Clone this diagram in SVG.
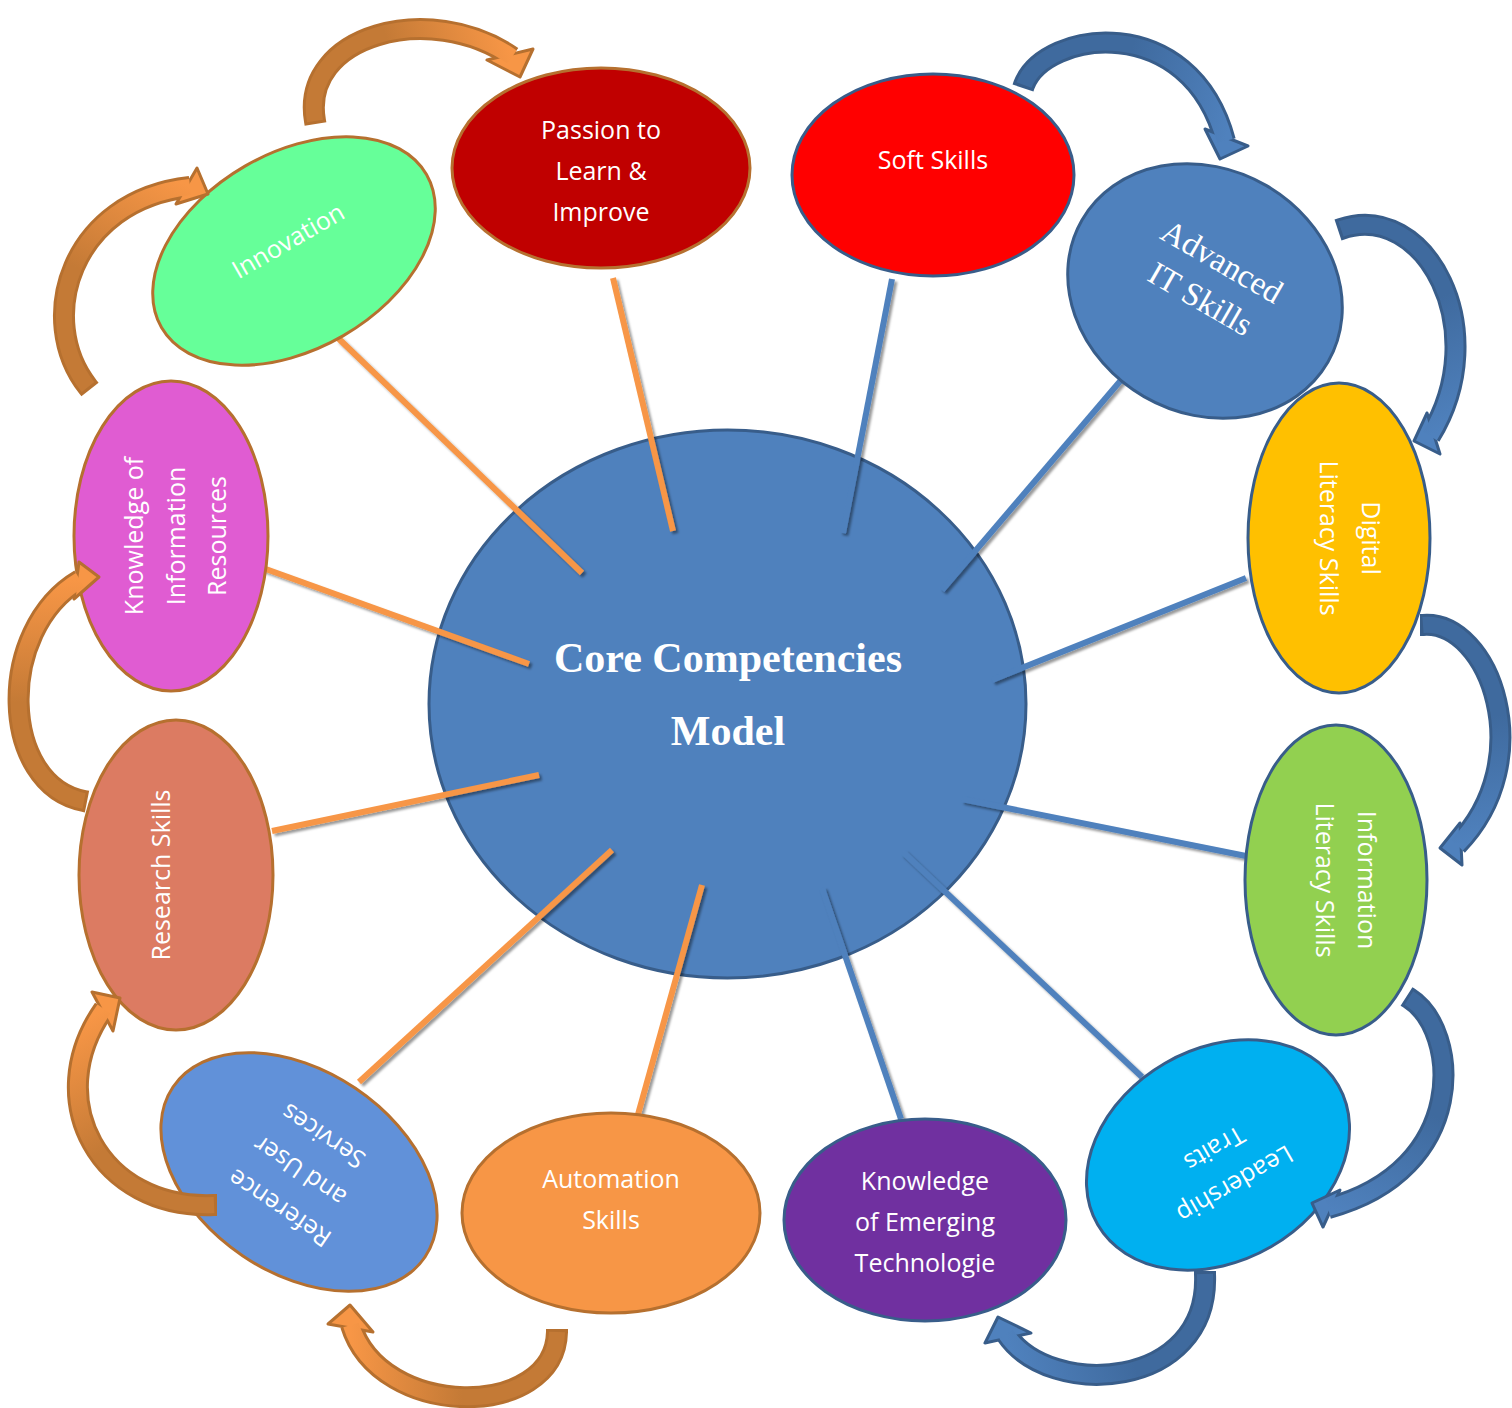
<svg xmlns="http://www.w3.org/2000/svg" width="1512" height="1408" viewBox="0 0 1512 1408">
  <defs>
    <style>
      .lbl{font-family:"Open Sans","Noto Sans",sans-serif;font-size:25px;fill:#fff;text-anchor:middle}
      .ser{font-family:"Liberation Serif","Times New Roman",serif;font-size:33px;fill:#fff;text-anchor:middle}
      .title{font-family:"Liberation Serif","Times New Roman",serif;font-size:42px;font-weight:bold;fill:#fff;text-anchor:middle}
      .ob{stroke:#b6702f;stroke-width:3}
      .bb{stroke:#385d8a;stroke-width:3}
      .co{stroke:#f79646;stroke-width:6}
      .cb{stroke:#4f81bd;stroke-width:6}
      .ao{fill:none;stroke:#b6702f;stroke-width:22}
      .ab{fill:none;stroke:#385d8a;stroke-width:22}
      .af{fill:none;stroke-width:16}
      .ho{fill:#f79646;stroke:#b6702f;stroke-width:3;stroke-linejoin:round}
      .hb{fill:#4f81bd;stroke:#385d8a;stroke-width:3;stroke-linejoin:round}
    </style>
    <!-- soft drop shadow under the spokes -->
    <filter id="spokeShadow" x="-10%" y="-10%" width="120%" height="120%">
      <feDropShadow dx="2.5" dy="2.5" stdDeviation="1.2" flood-color="#000" flood-opacity="0.4"/>
    </filter>
    <!-- shaft shading, darker at the tail -->
    <linearGradient id="gA" gradientUnits="userSpaceOnUse" x1="315" y1="121" x2="512" y2="57"><stop offset="0.45" stop-color="#c47a36"/><stop offset="1" stop-color="#f79646"/></linearGradient>
    <linearGradient id="gB" gradientUnits="userSpaceOnUse" x1="88" y1="387" x2="190" y2="187"><stop offset="0.45" stop-color="#c47a36"/><stop offset="1" stop-color="#f79646"/></linearGradient>
    <linearGradient id="gC" gradientUnits="userSpaceOnUse" x1="84" y1="801" x2="80" y2="580"><stop offset="0.45" stop-color="#c47a36"/><stop offset="1" stop-color="#f79646"/></linearGradient>
    <linearGradient id="gD" gradientUnits="userSpaceOnUse" x1="214" y1="1205" x2="104" y2="1009"><stop offset="0.45" stop-color="#c47a36"/><stop offset="1" stop-color="#f79646"/></linearGradient>
    <linearGradient id="gE" gradientUnits="userSpaceOnUse" x1="557" y1="1332" x2="351" y2="1325"><stop offset="0.45" stop-color="#c47a36"/><stop offset="1" stop-color="#f79646"/></linearGradient>
    <linearGradient id="gF" gradientUnits="userSpaceOnUse" x1="1024" y1="85" x2="1225" y2="141"><stop offset="0.45" stop-color="#3f6a9e"/><stop offset="1" stop-color="#4f81bd"/></linearGradient>
    <linearGradient id="gG" gradientUnits="userSpaceOnUse" x1="1341" y1="229" x2="1430" y2="436"><stop offset="0.45" stop-color="#3f6a9e"/><stop offset="1" stop-color="#4f81bd"/></linearGradient>
    <linearGradient id="gH" gradientUnits="userSpaceOnUse" x1="1423" y1="625" x2="1457" y2="845"><stop offset="0.45" stop-color="#3f6a9e"/><stop offset="1" stop-color="#4f81bd"/></linearGradient>
    <linearGradient id="gI" gradientUnits="userSpaceOnUse" x1="1409" y1="998" x2="1328" y2="1208"><stop offset="0.45" stop-color="#3f6a9e"/><stop offset="1" stop-color="#4f81bd"/></linearGradient>
    <linearGradient id="gJ" gradientUnits="userSpaceOnUse" x1="1205" y1="1274" x2="1006" y2="1334"><stop offset="0.45" stop-color="#3f6a9e"/><stop offset="1" stop-color="#4f81bd"/></linearGradient>
  </defs>

  <rect width="1512" height="1408" fill="#fff"/>

  <!-- hub -->
  <g id="core">
    <ellipse cx="727.5" cy="704" rx="298.5" ry="274" fill="#4f81bd" class="bb"/>
    <text class="title"><tspan x="728" y="672">Core Competencies</tspan><tspan x="728" y="745">Model</tspan></text>
  </g>

  <!-- spokes from the hub to each competency -->
  <g id="connectors" filter="url(#spokeShadow)">
    <line class="co" x1="338" y1="338" x2="582" y2="573"/>
    <line class="co" x1="613" y1="278" x2="673" y2="531"/>
    <line class="co" x1="263" y1="568" x2="529" y2="664"/>
    <line class="co" x1="272" y1="831" x2="539" y2="775"/>
    <line class="co" x1="359" y1="1082" x2="612" y2="850"/>
    <line class="co" x1="637" y1="1118" x2="702" y2="885"/>
    <line class="cb" x1="892" y1="279" x2="843" y2="533"/>
    <line class="cb" x1="1145" y1="352" x2="942" y2="590"/>
    <line class="cb" x1="1246" y1="578" x2="992" y2="680"/>
    <line class="cb" x1="1246" y1="856" x2="962" y2="799"/>
    <line class="cb" x1="1142" y1="1077" x2="903" y2="852"/>
    <line class="cb" x1="901" y1="1119" x2="822" y2="888"/>
  </g>

  <!-- competencies -->
  <g id="passion">
    <ellipse cx="601" cy="168" rx="149" ry="100" fill="#c00000" class="ob"/>
    <text class="lbl"><tspan x="601" y="139">Passion to</tspan><tspan x="601" y="180">Learn &amp;</tspan><tspan x="601" y="221">Improve</tspan></text>
  </g>
  <g id="soft-skills">
    <ellipse cx="933" cy="175" rx="141" ry="101" fill="#ff0000" class="bb"/>
    <text class="lbl" x="933" y="169">Soft Skills</text>
  </g>
  <g id="advanced-it" transform="translate(1205,291) rotate(30)">
    <ellipse rx="142" ry="122" fill="#4f81bd" class="bb"/>
    <text class="ser"><tspan x="0" y="-23">Advanced</tspan><tspan x="0" y="20">IT Skills</tspan></text>
  </g>
  <g id="digital-literacy" transform="translate(1339,538)">
    <ellipse rx="91" ry="155" fill="#ffc000" class="bb"/>
    <text class="lbl" transform="rotate(90)"><tspan x="0" y="-23">Digital</tspan><tspan x="0" y="19">Literacy Skills</tspan></text>
  </g>
  <g id="information-literacy" transform="translate(1336,880)">
    <ellipse rx="91" ry="155" fill="#92d050" class="bb"/>
    <text class="lbl" transform="rotate(90)"><tspan x="0" y="-22">Information</tspan><tspan x="0" y="20">Literacy Skills</tspan></text>
  </g>
  <g id="leadership" transform="translate(1218,1155) rotate(-30)">
    <ellipse rx="139" ry="106" fill="#00b0f0" class="bb"/>
    <text class="lbl" transform="rotate(180)"><tspan x="0" y="-25">Leadership</tspan><tspan x="0" y="16">Traits</tspan></text>
  </g>
  <g id="emerging-tech">
    <ellipse cx="925" cy="1220" rx="141" ry="101" fill="#7030a0" class="bb"/>
    <text class="lbl"><tspan x="925" y="1190">Knowledge</tspan><tspan x="925" y="1231">of Emerging</tspan><tspan x="925" y="1272">Technologie</tspan></text>
  </g>
  <g id="automation">
    <ellipse cx="611" cy="1213" rx="149" ry="100" fill="#f79646" class="ob"/>
    <text class="lbl"><tspan x="611" y="1188">Automation</tspan><tspan x="611" y="1229">Skills</tspan></text>
  </g>
  <g id="reference-services" transform="translate(299,1172) rotate(34)">
    <ellipse rx="152" ry="101" fill="#6191d9" class="ob"/>
    <text class="lbl" transform="rotate(180)"><tspan x="-4" y="-32">Reference</tspan><tspan x="0" y="10">and User</tspan><tspan x="0" y="52">Services</tspan></text>
  </g>
  <g id="research" transform="translate(176,875)">
    <ellipse rx="97" ry="155" fill="#dc7b62" class="ob"/>
    <text class="lbl" transform="rotate(-90)" x="0" y="-6">Research Skills</text>
  </g>
  <g id="information-resources" transform="translate(171,536)">
    <ellipse rx="97" ry="155" fill="#e05cd2" class="ob"/>
    <text class="lbl" transform="rotate(-90)"><tspan x="0" y="-28">Knowledge of</tspan><tspan x="0" y="14">Information</tspan><tspan x="0" y="55">Resources</tspan></text>
  </g>
  <g id="innovation" transform="translate(294,251) rotate(-30)">
    <ellipse rx="153" ry="98" fill="#66ff99" class="ob"/>
    <text class="lbl" x="0" y="-3">Innovation</text>
  </g>

  <!-- curved cycle arrows -->
  <g id="cycle-arrows">
    <g id="arrow-a">
      <path class="ao" d="M315.5,124 L315,121 C300,35 430,0 512,57"/>
      <polygon class="ho" points="487,60 533,49 520,77"/>
      <path class="af" stroke="url(#gA)" d="M315,121 C300,35 430,0 512,57"/>
    </g>
    <g id="arrow-b">
      <path class="ao" d="M90,389.5 L88,387 C35,320 70,200 190,187"/>
      <polygon class="ho" points="197,168 208,194 176,204"/>
      <path class="af" stroke="url(#gB)" d="M88,387 C35,320 70,200 190,187"/>
    </g>
    <g id="arrow-c">
      <path class="ao" d="M87,801.6 L84,801 C0,785 -5,630 80,580"/>
      <polygon class="ho" points="79,562 99,577 74,599"/>
      <path class="af" stroke="url(#gC)" d="M84,801 C0,785 -5,630 80,580"/>
    </g>
    <g id="arrow-d">
      <path class="ao" d="M217,1205 L214,1205 C100,1210 40,1100 104,1009"/>
      <polygon class="ho" points="92,992 120,998 113,1031"/>
      <path class="af" stroke="url(#gD)" d="M214,1205 C100,1210 40,1100 104,1009"/>
    </g>
    <g id="arrow-e">
      <path class="ao" d="M557,1329 L557,1332 C555,1420 380,1420 351,1325"/>
      <polygon class="ho" points="328,1324 350,1305 373,1332"/>
      <path class="af" stroke="url(#gE)" d="M557,1332 C555,1420 380,1420 351,1325"/>
    </g>
    <g id="arrow-f">
      <path class="ab" d="M1023,88 L1024,85 C1045,30 1190,10 1225,141"/>
      <polygon class="hb" points="1205,129 1248,146 1220,159"/>
      <path class="af" stroke="url(#gF)" d="M1024,85 C1045,30 1190,10 1225,141"/>
    </g>
    <g id="arrow-g">
      <path class="ab" d="M1338,230 L1341,229 C1425,200 1495,330 1430,436"/>
      <polygon class="hb" points="1427,413 1414,441 1440,454"/>
      <path class="af" stroke="url(#gG)" d="M1341,229 C1425,200 1495,330 1430,436"/>
    </g>
    <g id="arrow-h">
      <path class="ab" d="M1420,625 L1423,625 C1490,620 1540,760 1457,845"/>
      <polygon class="hb" points="1460,823 1440,848 1462,865"/>
      <path class="af" stroke="url(#gH)" d="M1423,625 C1490,620 1540,760 1457,845"/>
    </g>
    <g id="arrow-i">
      <path class="ab" d="M1406.5,996.4 L1409,998 C1460,1030 1470,1170 1328,1208"/>
      <polygon class="hb" points="1340,1190 1312,1203 1323,1227"/>
      <path class="af" stroke="url(#gI)" d="M1409,998 C1460,1030 1470,1170 1328,1208"/>
    </g>
    <g id="arrow-j">
      <path class="ab" d="M1205,1271 L1205,1274 C1210,1390 1050,1400 1006,1334"/>
      <polygon class="hb" points="998,1317 985,1343 1031,1333"/>
      <path class="af" stroke="url(#gJ)" d="M1205,1274 C1210,1390 1050,1400 1006,1334"/>
    </g>
  </g>
</svg>
